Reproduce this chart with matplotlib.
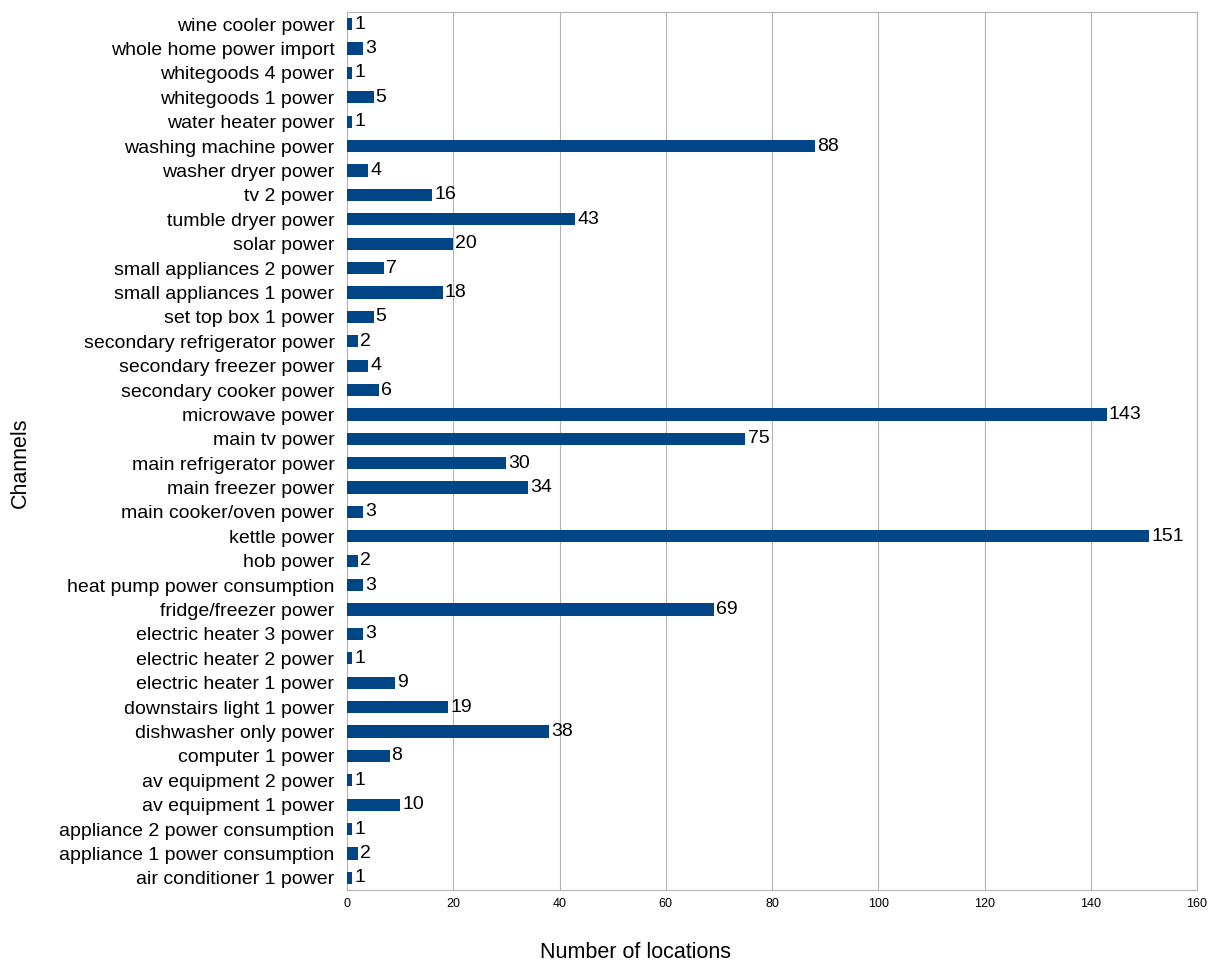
import matplotlib
matplotlib.use("Agg")
import matplotlib.pyplot as plt

channels = ["air conditioner 1 power","appliance 1 power consumption","appliance 2 power consumption",
"av equipment 1 power","av equipment 2 power","computer 1 power","dishwasher only power",
"downstairs light 1 power","electric heater 1 power","electric heater 2 power","electric heater 3 power",
"fridge/freezer power","heat pump power consumption","hob power","kettle power","main cooker/oven power",
"main freezer power","main refrigerator power","main tv power","microwave power","secondary cooker power",
"secondary freezer power","secondary refrigerator power","set top box 1 power","small appliances 1 power",
"small appliances 2 power","solar power","tumble dryer power","tv 2 power","washer dryer power",
"washing machine power","water heater power","whitegoods 1 power","whitegoods 4 power",
"whole home power import","wine cooler power"]
counts = [1,2,1,10,1,8,38,19,9,1,3,69,3,2,151,3,34,30,75,143,6,4,2,5,18,7,20,43,16,4,88,1,5,1,3,1]
xticks = [0,20,40,60,80,100,120,140,160]

plt.rcParams['font.family'] = ['Liberation Sans', 'DejaVu Sans']
fig = plt.figure(figsize=(12.21, 9.63), dpi=100)
ax = fig.add_axes([347/1221, 1-890/963, (1197-347)/1221, (890-12)/963])
y = range(len(channels))
ax.barh(y, counts, height=0.5, color="#004586", zorder=3)
for yi, c in zip(y, counts):
    ax.text(c + 0.4, yi, str(c), va="center", ha="left", fontsize=14)
ax.set_yticks(list(y))
ax.set_yticklabels(channels, fontsize=14)
ax.set_ylim(-0.5, len(channels) - 0.5)
ax.set_xlim(0, 160)
ax.set_xticks(xticks)
ax.tick_params(axis='x', labelsize=9, length=0, pad=6)
ax.tick_params(axis='y', length=0, pad=9)
ax.grid(axis='x', color="#b3b3b3", linewidth=0.8, zorder=0)
for s in ax.spines.values():
    s.set_color("#b3b3b3")
fig.text(636/1221, 1-952/963, "Number of locations", fontsize=15.5, ha="center", va="center")
fig.text(20/1221, 1-463/963, "Channels", fontsize=15.5, ha="center", va="center", rotation=90)
fig.savefig("out.png", dpi=100)
